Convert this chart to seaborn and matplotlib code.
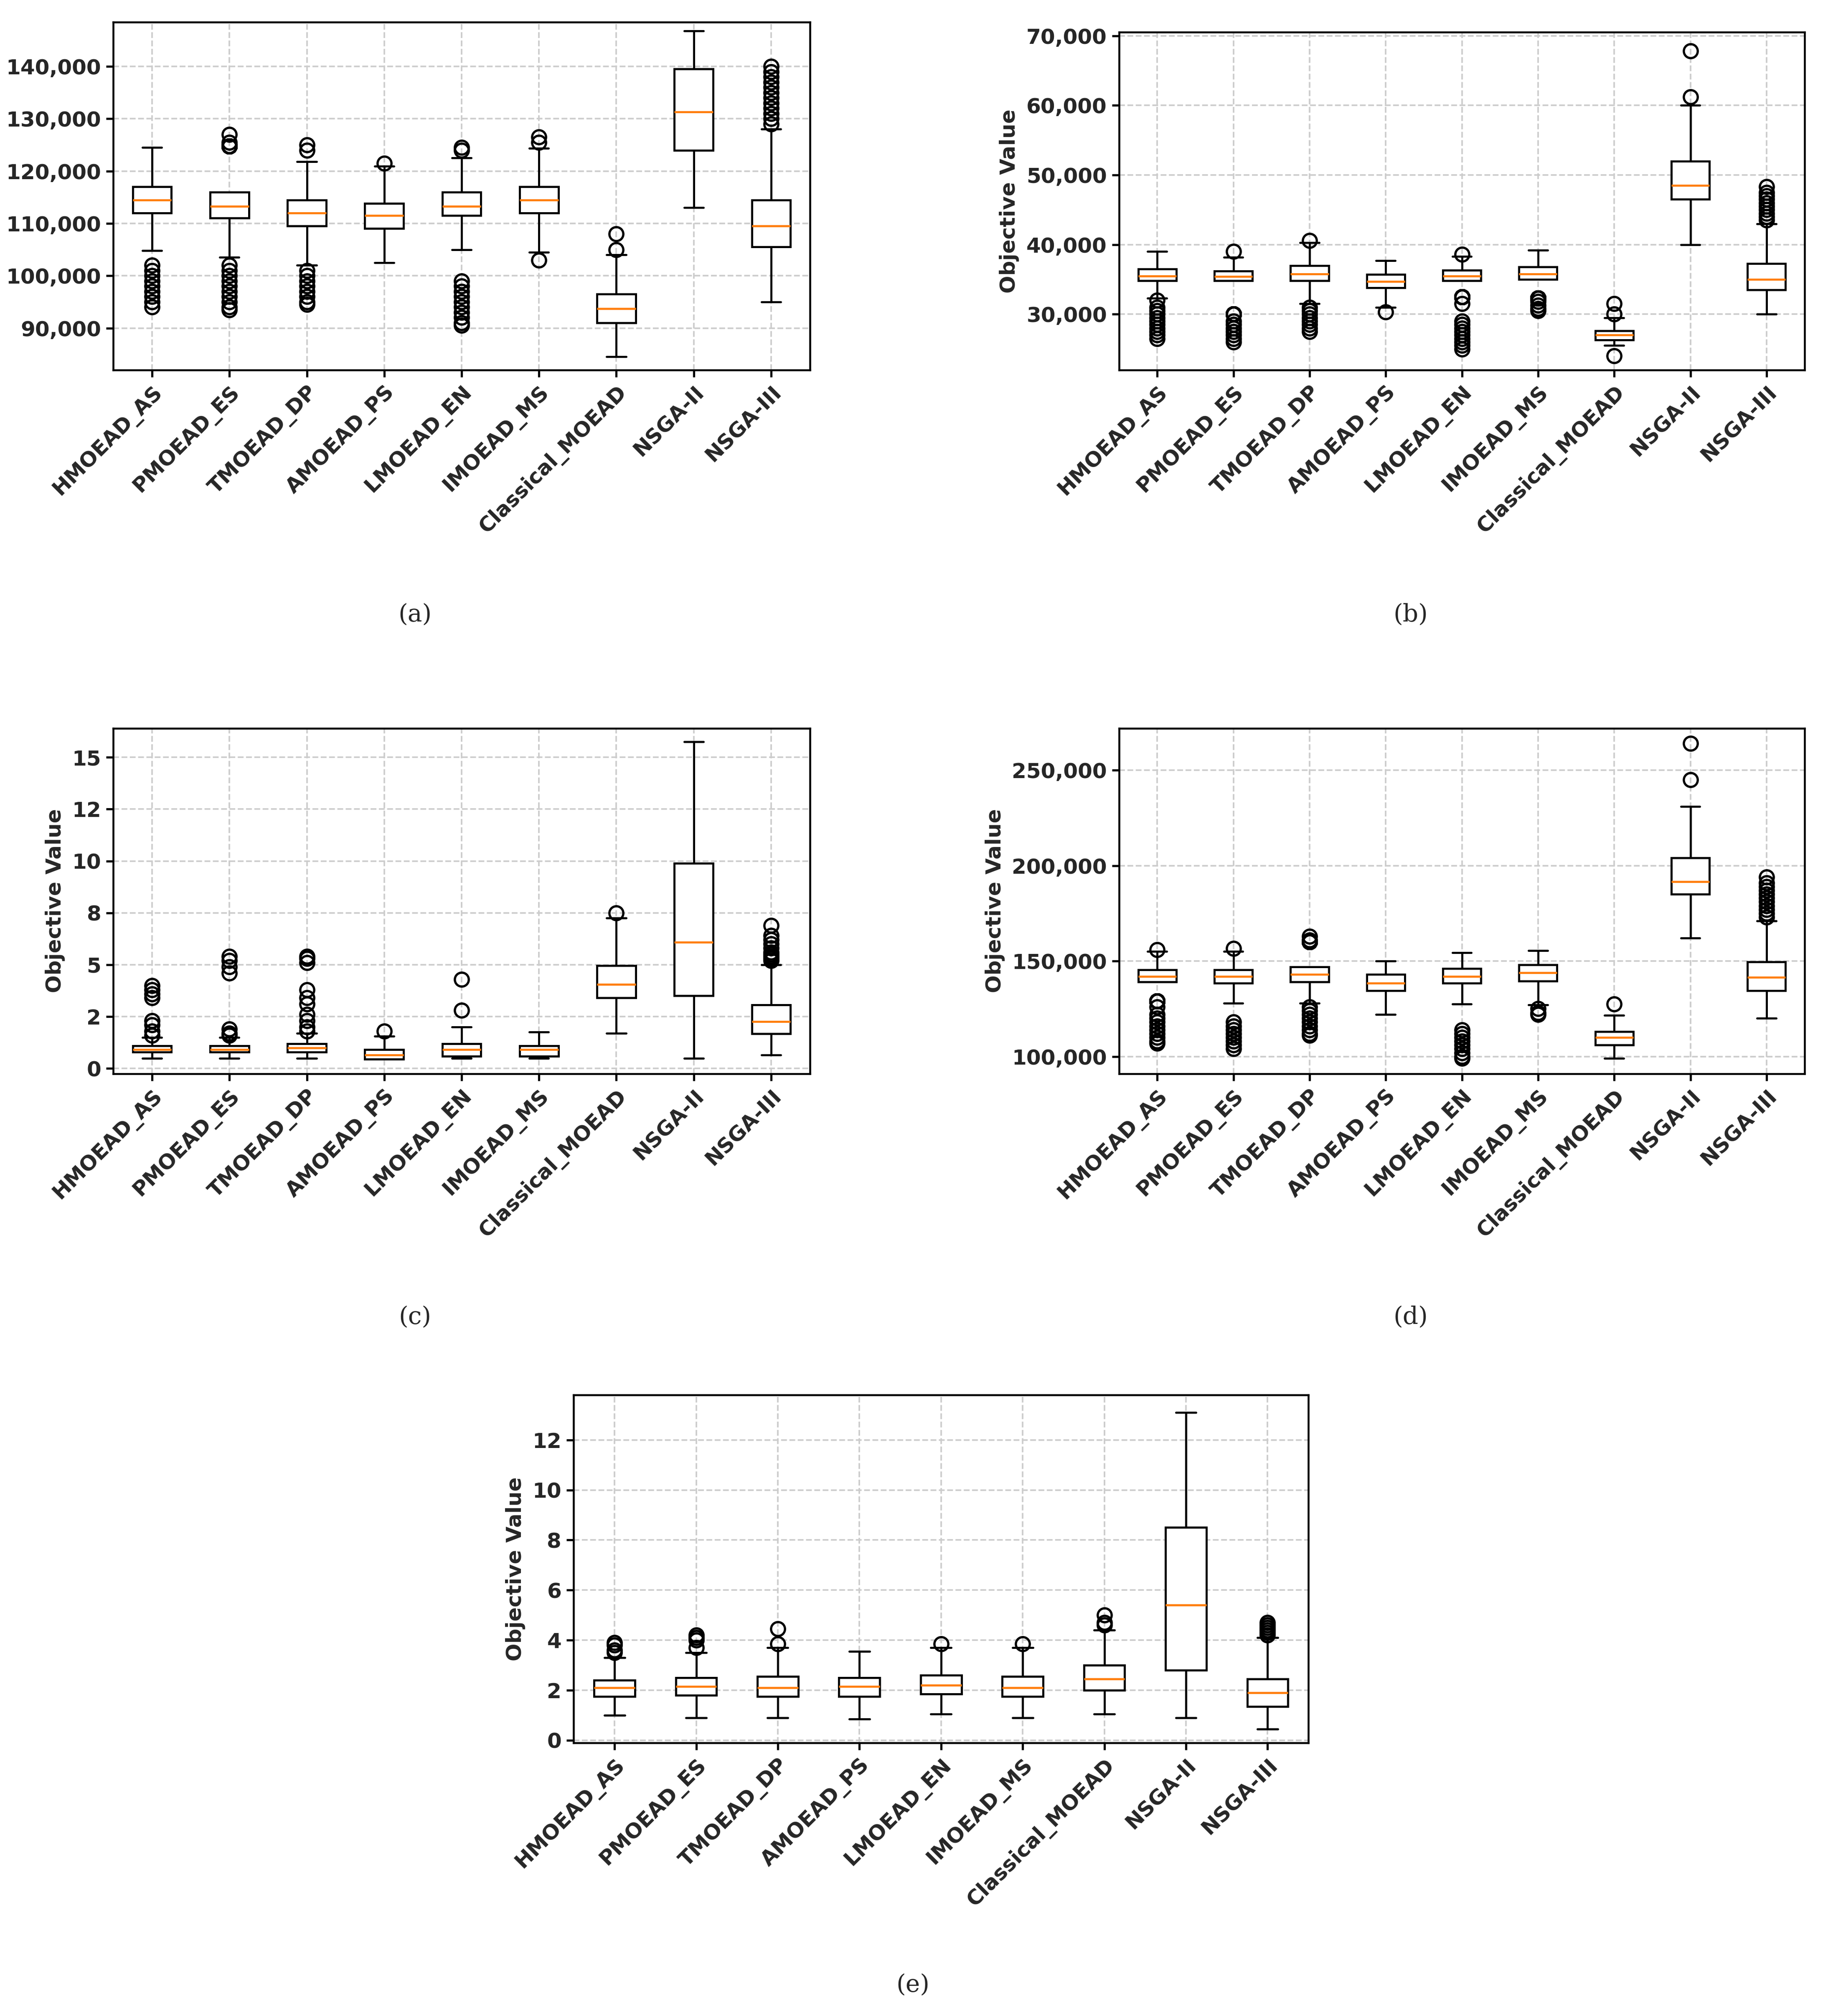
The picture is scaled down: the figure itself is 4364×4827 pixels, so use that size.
import pandas as pd
import matplotlib.pyplot as plt
import matplotlib.ticker as mticker
import seaborn as sns

sns.set_theme(style="white")
plt.rcParams['font.family'] = 'DejaVu Sans'

methods = ['HMOEAD_AS', 'PMOEAD_ES', 'TMOEAD_DP', 'AMOEAD_PS', 'LMOEAD_EN',
           'IMOEAD_MS', 'Classical_MOEAD', 'NSGA-II', 'NSGA-III']

# [whisker low, q1, median, q3, whisker high] per method, then outliers
a_box = [[104.8, 112, 114.5, 117, 124], [103.5, 111, 113.3, 116, 124.8], [102.5, 109.5, 112, 114.5, 121.8],
         [102.5, 109, 111.5, 113.8, 120.9], [105, 111.5, 113.3, 116, 122.5], [105.5, 112, 114.5, 117, 124.4],
         [84.5, 91, 93.7, 96.5, 104], [113, 124, 131.3, 139.5, 146.8], [95, 105.5, 109.5, 114.5, 127.5]]
a_out = [[124.5, 102, 101, 100, 99, 98, 97, 96, 95, 94],
         [125.5, 127, 102, 101, 100, 99, 98, 97, 96, 95, 94, 93.5],
         [124, 125, 102, 101, 100, 99, 98, 97, 96, 95, 94.5],
         [121.5],
         [124, 124.5, 99, 98, 97, 96, 95, 94, 93, 92, 91, 90.5],
         [125.5, 126.5, 104.5, 103],
         [105, 108],
         [],
         [128, 129, 130, 131, 132, 133, 134, 135, 136, 137, 138, 139, 140]]

b_box = [[32.3, 34.8, 35.5, 36.5, 38.8], [30, 34.8, 35.4, 36.2, 38.2], [32, 34.8, 35.8, 37, 39.8],
         [31, 33.8, 34.7, 35.7, 37.7], [32.5, 34.8, 35.5, 36.3, 38.3], [32.3, 35, 35.8, 36.8, 39.2],
         [25.5, 26.3, 27, 27.6, 29.5], [40, 46.5, 48.5, 52, 60], [30, 33.5, 35, 37.3, 42.5]]
b_out = [[39, 32, 31, 30.5, 30, 29.5, 29, 28.5, 28, 27.5, 27, 26.5],
         [39, 29, 28.5, 28, 27.5, 27, 26.5, 26],
         [40.3, 40.6, 31.5, 31, 30.5, 30, 29.5, 29, 28.5, 28, 27.5],
         [30.3],
         [38.6, 31.5, 29, 28.5, 28, 27.5, 27, 26.5, 26, 25.5, 25],
         [31.8, 31.3, 30.8, 30.5],
         [30, 31.5, 24],
         [61.2, 67.8],
         [43, 43.5, 44, 44.5, 45, 45.5, 46, 46.5, 47, 47.5, 48.3]]

c_box = [[0.5, 0.8, 0.92, 1.1, 1.5], [0.5, 0.8, 0.92, 1.1, 1.5], [0.5, 0.8, 1.0, 1.2, 1.7],
         [0.46, 0.46, 0.66, 0.92, 1.55], [0.5, 0.6, 0.92, 1.2, 1.8], [0.5, 0.6, 0.92, 1.1, 1.75],
         [1.7, 3.4, 4.06, 4.96, 7.25], [0.5, 3.52, 6.08, 9.9, 15.74], [0.66, 1.67, 2.27, 3.06, 5.0]]
c_out = [[1.6, 1.8, 2.1, 2.3, 3.4, 3.6, 3.8, 4.0],
         [1.6, 1.7, 1.9, 4.6, 4.9, 5.2, 5.4],
         [1.8, 2.0, 2.3, 2.6, 3.1, 3.4, 3.8, 5.1, 5.3, 5.4],
         [1.79],
         [2.0, 2.8, 4.3],
         [],
         [7.5],
         [],
         [5.2, 5.3, 5.4, 5.5, 5.6, 5.8, 6.0, 6.2, 6.4, 6.9]]

d_box = [[129, 139, 142, 145.5, 155], [128, 138.5, 142, 145.5, 155], [128, 139, 143, 147, 160],
         [125, 134.5, 138.5, 143, 150], [130, 138.5, 142, 146, 153], [131, 139.5, 144, 148, 155.5],
         [101, 106, 110, 113, 118], [162, 185, 191.5, 204, 231], [120, 134.5, 141.5, 149.5, 170]]
d_out = [[156, 126, 122, 120, 118, 116, 114, 112, 110, 108, 107],
         [156.5, 118, 116, 114, 112, 110, 108, 106, 104],
         [161, 163, 126, 124, 122, 120, 118, 116, 114, 112, 111],
         [122, 123],
         [154.5, 127.5, 114, 112, 110, 108, 106, 104, 102, 100, 99],
         [129, 127, 125, 123, 122],
         [121.5, 127.5, 99],
         [245, 264],
         [171, 173, 175, 177, 179, 181, 183, 185, 187, 189, 191, 194]]

e_box = [[1.0, 1.75, 2.1, 2.4, 3.3], [0.9, 1.8, 2.15, 2.5, 3.5], [0.9, 1.75, 2.1, 2.55, 3.7],
         [0.85, 1.75, 2.15, 2.5, 3.55], [1.05, 1.85, 2.2, 2.6, 3.7], [0.9, 1.75, 2.1, 2.55, 3.7],
         [1.05, 2.0, 2.45, 3.0, 4.4], [0.9, 2.8, 5.4, 8.5, 13.1], [0.45, 1.35, 1.9, 2.45, 4.0]]
e_out = [[3.5, 3.6, 3.8, 3.9],
         [3.7, 4.0, 4.1, 4.2],
         [3.85, 4.45],
         [],
         [3.85],
         [3.85],
         [4.6, 4.7, 5.0],
         [],
         [4.1, 4.2, 4.3, 4.4, 4.5, 4.6, 4.7]]

panels = [
    ('a', a_box, a_out, 1000, (82000, 148500), None, [0.0622, 0.8165, 0.382, 0.1726], (322, 477)),
    ('b', b_box, b_out, 1000, (22000, 70500), None, [0.6139, 0.8165, 0.376, 0.1675], (1094, 477)),
    ('c', c_box, c_out, 1, (-0.25, 16.4), 2.5, [0.0622, 0.4674, 0.382, 0.1714], (322, 1022)),
    ('d', d_box, d_out, 1000, (91000, 272000), 50000, [0.6139, 0.4674, 0.376, 0.1714], (1094, 1022)),
    ('e', e_box, e_out, 1, (-0.1, 13.8), 2, [0.3147, 0.1355, 0.403, 0.1726], (708, 1540)),
]


def build_frame(box, out, scale):
    # repeat the five numbers so the quartiles stay put, then add outliers
    rows = []
    for m, stats, fl in zip(methods, box, out):
        for v in stats:
            rows += [(m, v * scale)] * 100
        rows += [(m, v * scale) for v in fl]
    return pd.DataFrame(rows, columns=['Method', 'Value'])


fig = plt.figure(figsize=(14.547, 16.09), dpi=300)

for tag, box, out, scale, ylim, step, pos, cap in panels:
    df = build_frame(box, out, scale)
    ax = fig.add_axes(pos)
    sns.boxplot(data=df, x='Method', y='Value', order=methods, ax=ax,
                color='white', linecolor='black', linewidth=1.2, width=0.5,
                medianprops=dict(color='#ff7f0e', linewidth=1.2),
                flierprops=dict(marker='o', markerfacecolor='none', markeredgewidth=1.3,
                                markeredgecolor='black', markersize=8))
    ax.set_ylim(*ylim)
    ax.grid(True, linestyle='--', color='#cccccc', linewidth=0.9)
    ax.set_axisbelow(True)
    for s in ax.spines.values():
        s.set_color('black')
        s.set_linewidth(1.1)
    ax.tick_params(axis='both', length=4, color='black', bottom=True, left=True, pad=3)
    if step:
        ax.yaxis.set_major_locator(mticker.MultipleLocator(step))
    ax.yaxis.set_major_formatter(mticker.StrMethodFormatter('{x:,.0f}'))
    ax.set_xticks(range(len(methods)))
    ax.set_xticklabels(methods, rotation=45, ha='right', rotation_mode='anchor',
                       fontsize=12, fontweight='bold')
    for t in ax.get_yticklabels():
        t.set_fontsize(12)
        t.set_fontweight('bold')
    ax.set_xlabel('')
    ax.set_ylabel('Objective Value', fontsize=12, fontweight='bold', labelpad=4)
    fig.text(cap[0] / 1414, 1 - cap[1] / 1564, f'({tag})', ha='center', va='center',
             fontsize=14, family='DejaVu Serif')

plt.savefig('out.png', dpi=300)
